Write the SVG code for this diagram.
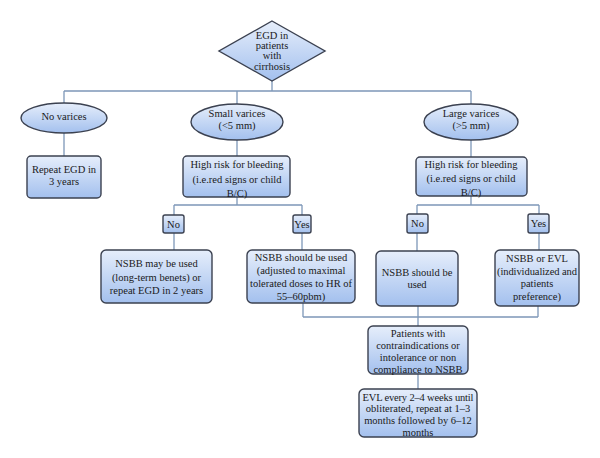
<svg xmlns="http://www.w3.org/2000/svg" width="600" height="458" viewBox="0 0 600 458">
<defs>
<linearGradient id="g" x1="0" y1="0" x2="0" y2="1">
<stop offset="0" stop-color="#e6eefb"/>
<stop offset="1" stop-color="#a3c0ee"/>
</linearGradient>
</defs>
<style>
.n{fill:url(#g);stroke:#3b4150;stroke-width:1.4}
.t{font-size:10.5px;fill:#1a1a1a;text-anchor:middle}
.c{fill:none;stroke:#7d97b8;stroke-width:1.3}
</style>
<rect width="600" height="458" fill="#fff"/>
<g id="connectors">
<path class="c" d="M272 81V91M64 91H471M64 91V103M237 91V104M471 91V105"/>
<path class="c" d="M64 133V156M237 140V156M471 140V157"/>
<path class="c" d="M237 197V205M174 205H302M174 205V215M302 205V215M174 233V250M302 233V250"/>
<path class="c" d="M471 196V205M417 205H539M417 205V214M539 205V214M417 233V251M539 233V250"/>
<path class="c" d="M303 303V317M418 306V317M538 306V317M303 317H538M418 317V326M418 374V389"/>
</g>
<g font-family="Liberation Serif, Times New Roman, DejaVu Serif, serif">
<g id="egd"><polygon class="n" points="272,21 325,51 272,81 219,51"/>
<text class="t" x="272" y="39">EGD in</text><text class="t" x="272" y="49">patients</text><text class="t" x="272" y="59">with</text><text class="t" x="272" y="70">cirrhosis</text></g>
<g id="novarices"><ellipse class="n" cx="64" cy="118" rx="43" ry="15"/><text class="t" x="64" y="120">No varices</text></g>
<g id="small"><ellipse class="n" cx="237" cy="122" rx="46" ry="18"/><text class="t" x="237" y="117">Small varices</text><text class="t" x="237" y="129">(&lt;5 mm)</text></g>
<g id="large"><ellipse class="n" cx="471" cy="122" rx="47" ry="18"/><text class="t" x="471" y="117">Large varices</text><text class="t" x="471" y="129">(&gt;5 mm)</text></g>
<g id="repeat3"><rect class="n" x="27" y="156" width="74" height="42" rx="4"/><text class="t" x="64" y="173">Repeat EGD in</text><text class="t" x="64" y="185">3 years</text></g>
<g id="hr1"><rect class="n" x="183" y="156" width="107" height="41" rx="4"/><text class="t" x="237" y="168" textLength="93">High risk for bleeding</text><text class="t" x="237" y="183">(i.e.red signs or child</text><text class="t" x="237" y="197">B/C)</text></g>
<g id="hr2"><rect class="n" x="416" y="157" width="111" height="39" rx="4"/><text class="t" x="471" y="168" textLength="93">High risk for bleeding</text><text class="t" x="471" y="182">(i.e.red signs or child</text><text class="t" x="471" y="196">B/C)</text></g>
<g id="no1"><rect class="n" x="163" y="215" width="21" height="18" rx="2"/><text class="t" x="173.5" y="227.5">No</text></g>
<g id="yes1"><rect class="n" x="293" y="215" width="18" height="18" rx="2"/><text class="t" x="302" y="227.5">Yes</text></g>
<g id="no2"><rect class="n" x="407" y="214" width="21" height="19" rx="2"/><text class="t" x="417.5" y="227">No</text></g>
<g id="yes2"><rect class="n" x="528" y="214" width="21" height="19" rx="2"/><text class="t" x="538.5" y="227">Yes</text></g>
<g id="nsbbmay"><rect class="n" x="101" y="250" width="111" height="53" rx="5"/><text class="t" x="156.5" y="267">NSBB may be used</text><text class="t" x="156.5" y="281">(long-term benets) or</text><text class="t" x="156.5" y="294">repeat EGD in 2 years</text></g>
<g id="nsbbshould1"><rect class="n" x="247" y="250" width="108" height="53" rx="5"/><text class="t" x="301" y="261">NSBB should be used</text><text class="t" x="301" y="274">(adjusted to maximal</text><text class="t" x="301" y="287" textLength="102">tolerated doses to HR of</text><text class="t" x="301" y="300">55–60pbm)</text></g>
<g id="nsbbshould2"><rect class="n" x="376" y="251" width="82" height="55" rx="5"/><text class="t" x="417" y="276">NSBB should be</text><text class="t" x="417" y="288">used</text></g>
<g id="nsbbevl"><rect class="n" x="495" y="250" width="84" height="56" rx="5"/><text class="t" x="537" y="262">NSBB or EVL</text><text class="t" x="537" y="275" textLength="80">(individualized and</text><text class="t" x="537" y="287">patients</text><text class="t" x="537" y="300">preference)</text></g>
<g id="patients"><rect class="n" x="368" y="326" width="100" height="48" rx="5"/><text class="t" x="418" y="337">Patients with</text><text class="t" x="418" y="349">contraindications or</text><text class="t" x="418" y="361">intolerance or non</text><text class="t" x="418" y="373">compliance to NSBB</text></g>
<g id="evl"><rect class="n" x="359" y="389" width="118" height="48" rx="5"/><text class="t" x="418" y="401" textLength="111">EVL every 2–4 weeks until</text><text class="t" x="418" y="412">obliterated, repeat at 1–3</text><text class="t" x="418" y="424">months followed by 6–12</text><text class="t" x="418" y="436">months</text></g>
</g>
</svg>
